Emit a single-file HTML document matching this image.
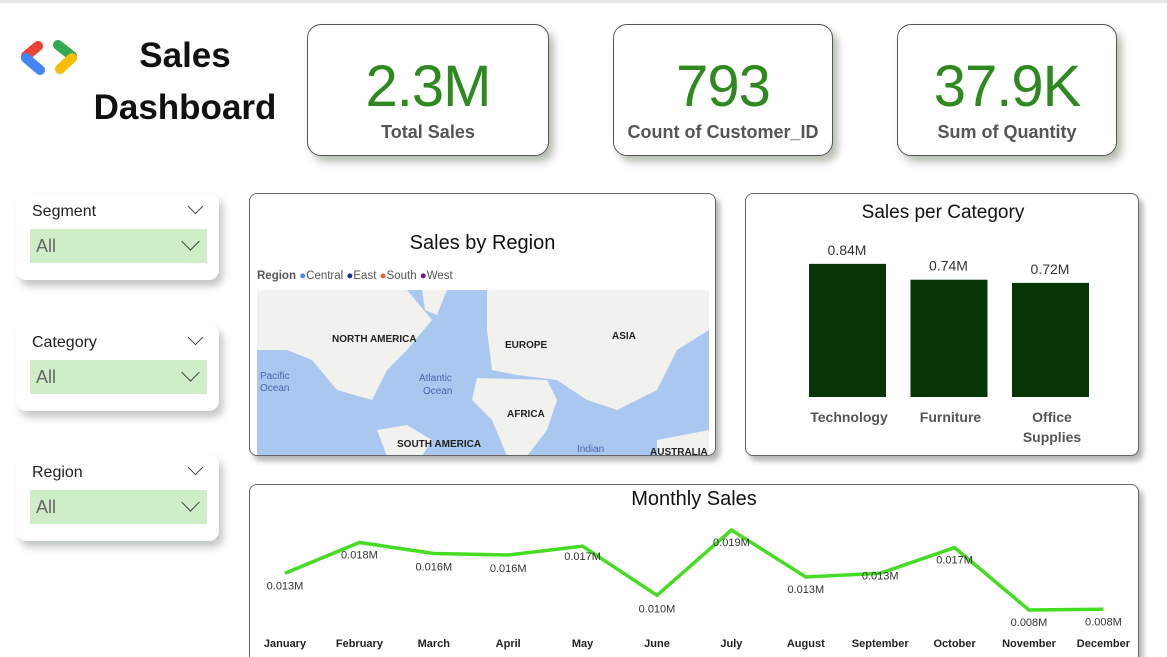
<!DOCTYPE html>
<html><head><meta charset="utf-8">
<style>
html,body{margin:0;width:1167px;height:657px;overflow:hidden}
body{background:#fff;font-family:"Liberation Sans",sans-serif;position:relative}
.abs{position:absolute}
.card{position:absolute;background:#fff;border:1px solid #555;border-radius:14px;box-shadow:5px 6px 8px rgba(90,110,80,.45)}
.kv{position:absolute;left:0;right:0;text-align:center;color:#2e8a1e;font-size:58px;top:28px;letter-spacing:-1px}
.kl{position:absolute;left:0;right:0;text-align:center;color:#555;font-size:18px;font-weight:bold;top:97px}
.slicer{position:absolute;left:16px;width:203px;background:#fff;border-radius:10px;box-shadow:4px 6px 8px rgba(120,130,120,.45)}
.slicer .t{position:absolute;left:16px;top:10px;font-size:16px;color:#222}
.slicer .dd{position:absolute;left:14px;top:36px;width:177px;height:34px;background:#cdeec7}
.slicer .dd span{position:absolute;left:6px;top:7px;font-size:18px;color:#666}
.chev{position:absolute;width:10px;height:10px;border-right:1.5px solid #444;border-bottom:1.5px solid #444;transform:rotate(45deg)}
.panel{position:absolute;background:#fff;border:1px solid #666;border-radius:8px;box-shadow:4px 5px 6px rgba(0,0,0,.3)}
</style></head><body>
<div class="abs" style="left:0;top:0;width:1167px;height:3px;background:#e8e8e8"></div>
<svg class="abs" style="left:18px;top:38px" width="76" height="40">
<line x1="20" y1="8" x2="8" y2="18" stroke="#e94335" stroke-width="10" stroke-linecap="round"/>
<line x1="8" y1="20" x2="22" y2="32" stroke="#4285f4" stroke-width="10" stroke-linecap="round"/>
<line x1="40" y1="7" x2="54" y2="18" stroke="#34a853" stroke-width="10" stroke-linecap="round"/>
<line x1="54" y1="20" x2="42" y2="31" stroke="#fbbc04" stroke-width="10" stroke-linecap="round"/>
</svg>
<div class="abs" style="left:90px;top:30px;width:190px;text-align:center;font-size:35px;font-weight:bold;line-height:52px;color:#111">Sales<br>Dashboard</div>

<div class="card" style="left:307px;top:24px;width:240px;height:130px"><div class="kv">2.3M</div><div class="kl">Total Sales</div></div>
<div class="card" style="left:613px;top:24px;width:218px;height:130px"><div class="kv">793</div><div class="kl">Count of Customer_ID</div></div>
<div class="card" style="left:897px;top:24px;width:218px;height:130px"><div class="kv">37.9K</div><div class="kl">Sum of Quantity</div></div>

<div class="slicer" style="top:193px;height:87px"><div class="t">Segment</div><div class="chev" style="right:18px;top:8px"></div><div class="dd"><span>All</span><div class="chev" style="right:10px;top:6px;width:12px;height:12px"></div></div></div>
<div class="slicer" style="top:324px;height:87px"><div class="t">Category</div><div class="chev" style="right:18px;top:8px"></div><div class="dd"><span>All</span><div class="chev" style="right:10px;top:6px;width:12px;height:12px"></div></div></div>
<div class="slicer" style="top:454px;height:87px"><div class="t">Region</div><div class="chev" style="right:18px;top:8px"></div><div class="dd"><span>All</span><div class="chev" style="right:10px;top:6px;width:12px;height:12px"></div></div></div>

<div class="panel" style="left:249px;top:193px;width:465px;height:261px;overflow:hidden">
<div class="abs" style="left:0;right:0;top:38px;text-align:center;font-size:20px;color:#111">Sales by Region</div>
<div class="abs" style="left:7px;top:76px;font-size:11.5px;color:#555"><b>Region</b> <span style="color:#4a8af4">●</span>Central <span style="color:#1a2e9a">●</span>East <span style="color:#e0603a">●</span>South <span style="color:#6a1a80">●</span>West</div>
<svg class="abs" style="left:7px;top:96px" width="452" height="166">
<rect width="452" height="166" fill="#aac7f0"/>
<g fill="#f1f1ee">
<path d="M0,0 L150,0 L175,30 L150,60 L130,80 L115,110 L80,100 L55,70 L30,60 L0,60Z"/>
<path d="M165,0 L190,0 L180,25 L168,20Z"/>
<path d="M120,140 L150,135 L175,150 L165,166 L130,166Z"/>
<path d="M230,0 L452,0 L452,40 L420,60 L400,100 L360,120 L330,110 L300,90 L260,85 L235,80 L230,40Z"/>
<path d="M220,88 L290,90 L300,110 L290,140 L270,166 L250,166 L235,130 L215,110Z"/>
<path d="M400,150 L452,140 L452,166 L400,166Z"/>
</g>
<g font-size="10" font-weight="bold" fill="#222">
<text x="75" y="52">NORTH AMERICA</text><text x="248" y="58">EUROPE</text><text x="355" y="49">ASIA</text>
<text x="250" y="127">AFRICA</text><text x="140" y="157">SOUTH AMERICA</text><text x="393" y="165">AUSTRALIA</text>
</g>
<g font-size="10" fill="#4a64a8"><text x="3" y="89">Pacific</text><text x="3" y="101">Ocean</text><text x="162" y="91">Atlantic</text><text x="166" y="104">Ocean</text><text x="320" y="162">Indian</text></g>
</svg>
</div>

<div class="panel" style="left:745px;top:193px;width:392px;height:261px">
<svg class="abs" style="left:0;top:0" width="392" height="261" id="barsvg">
<text x="197" y="24" text-anchor="middle" font-size="19" fill="#111">Sales per Category</text>
</svg>
</div>

<div class="panel" style="left:249px;top:484px;width:888px;height:180px">
<div class="abs" style="left:0;right:0;top:3px;text-align:center;font-size:20px;color:#111">Monthly Sales</div>
</div>
<svg class="abs" id="linesvg" style="left:0;top:0" width="1167" height="657"></svg>

<script>
const categories=["Technology","Furniture","Office Supplies"];
const categorySales=[0.84,0.74,0.72];
const months=["January","February","March","April","May","June","July","August","September","October","November","December"];
const monthlySales=[0.0133,0.0175,0.0160,0.0158,0.0170,0.0103,0.0192,0.0128,0.0133,0.0168,0.0083,0.0084];
const NS="http://www.w3.org/2000/svg";
function mk(t,a,p){const e=document.createElementNS(NS,t);for(const k in a)e.setAttribute(k,a[k]);p.appendChild(e);return e;}
const bs=document.getElementById('barsvg');
const base=203, pxPerM=158.5;
const bx=i=>63+i*101.5;
categories.forEach((c,i)=>{
 const h=categorySales[i]*pxPerM;
 const r=mk('rect',{x:bx(i),y:base-h,width:77,height:h,fill:'#063605'},bs);
 
 
 const t=mk('text',{x:bx(i)+38,y:base-h-9,'text-anchor':'middle','font-size':14,fill:'#333'},bs);
 t.textContent=categorySales[i].toFixed(2)+'M';
 
 
 c.split(' ').forEach((w,j)=>{
  const l=mk('text',{x:bx(i)+40,y:228+j*20,'text-anchor':'middle','font-size':14,'font-weight':'bold',fill:'#555'},bs);
  l.textContent=w;
  
  
 });
});
const ls=document.getElementById('linesvg');
const vmin=0.0083,vmax=0.0192;
const X=i=>285+i*74.4;
const Y=v=>610-(v-vmin)/(vmax-vmin)*80;
const pl=mk('polyline',{points:monthlySales.map((v,i)=>X(i)+','+Y(v)).join(' '),fill:'none',stroke:'#44dd22','stroke-width':3.5},ls);


const dys=[16,16,17,17,14,17,16,16,6,16,16,16];
months.forEach((m,i)=>{
 const v=monthlySales[i];
 const lab=mk('text',{x:X(i),y:Y(v)+dys[i],'text-anchor':'middle','font-size':11,fill:'#333'},ls);
 lab.textContent=v.toFixed(3)+'M';
 
 
 const t=mk('text',{x:X(i),y:647,'text-anchor':'middle','font-size':11,'font-weight':'bold',fill:'#222'},ls);
 t.textContent=m;
 
 
});
</script>
</body></html>
